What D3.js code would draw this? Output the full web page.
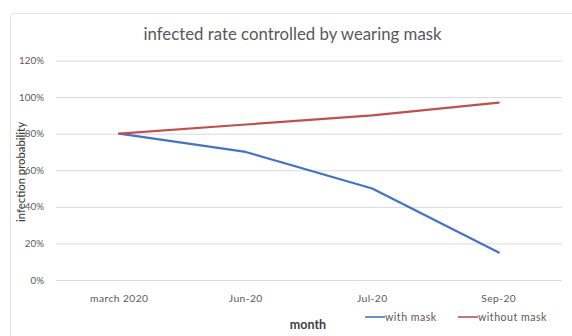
<!DOCTYPE html>
<html>
<head>
<meta charset="utf-8">
<script src="https://cdn.jsdelivr.net/npm/d3@7"></script>
<style>
  html, body { margin: 0; padding: 0; background: #fff; }
  svg { display: block; font-family: Lato, "Open Sans", sans-serif; }
</style>
</head>
<body>
<svg id="chart" width="572" height="336"></svg>
<script>
// Monthly infection probability, with and without masks
const months = ["march 2020", "Jun-20", "Jul-20", "Sep-20"];
const withMask = [0.80, 0.70, 0.50, 0.15];
const withoutMask = [0.80, 0.85, 0.90, 0.97];
const yTicks = [0, 0.2, 0.4, 0.6, 0.8, 1.0, 1.2];
const seriesNames = ["with mask", "without mask"];
const seriesColors = ["#4472C4", "#C0504D"];

const svg = d3.select("#chart");
const W = 572, H = 336;
const plot = { left: 56, right: 562, top: 60.5, bottom: 280 };

// chart frame
svg.append("rect")
  .attr("x", 10.5).attr("y", 13.5)
  .attr("width", W + 10).attr("height", H + 10)
  .attr("rx", 3)
  .attr("fill", "#fff").attr("stroke", "#e3e3e3");

const x = d3.scaleBand().domain(months).range([plot.left, plot.right]);
const y = d3.scaleLinear().domain([0, 1.2]).range([plot.bottom, plot.top]);

// title
svg.append("text")
  .attr("x", 292.5).attr("y", 39.5)
  .attr("text-anchor", "middle")
  .attr("font-size", 16.8)
  .attr("fill", "#595959")
  .text("infected rate controlled by wearing mask");

// gridlines + y tick labels
const yAxis = d3.axisLeft(y)
  .tickValues(yTicks)
  .tickFormat(d3.format(".0%"))
  .tickSize(-(plot.right - plot.left))
  .tickPadding(12);
const gy = svg.append("g")
  .attr("transform", `translate(${plot.left},0)`)
  .call(yAxis);
gy.select(".domain").remove();
gy.selectAll(".tick line").attr("stroke", "#d9d9d9").attr("stroke-width", 1);
gy.selectAll(".tick text")
  .attr("fill", "#595959")
  .attr("font-size", 9.8)
  .attr("font-family", "Lato, 'Open Sans', sans-serif");

// x category labels
const xAxis = d3.axisBottom(x).tickSize(0).tickPadding(15);
const gx = svg.append("g")
  .attr("transform", `translate(0,${plot.bottom})`)
  .call(xAxis);
gx.select(".domain").remove();
gx.selectAll(".tick text")
  .attr("fill", "#595959")
  .attr("font-size", 10.3)
  .attr("letter-spacing", 0.4)
  .attr("font-family", "Lato, 'Open Sans', sans-serif");

// axis titles
svg.append("text")
  .attr("transform", "translate(25,172) rotate(-90)")
  .attr("text-anchor", "middle")
  .attr("font-size", 11.3)
  .attr("font-weight", 500)
  .attr("fill", "#404040")
  .text("infection probability");

svg.append("text")
  .attr("x", 308).attr("y", 329)
  .attr("text-anchor", "middle")
  .attr("font-size", 12.5)
  .attr("font-weight", 700)
  .attr("fill", "#404040")
  .text("month");

// series lines
const line = d3.line()
  .x((d, i) => x(months[i]) + x.bandwidth() / 2)
  .y(d => y(d));

[withMask, withoutMask].forEach((vals, i) => {
  svg.append("path")
    .datum(vals)
    .attr("d", line)
    .attr("fill", "none")
    .attr("stroke", seriesColors[i])
    .attr("stroke-width", 2.2)
    .attr("stroke-linejoin", "round")
    .attr("stroke-linecap", "round");
});

// legend
const legendX = [365, 458];
seriesNames.forEach((name, i) => {
  const g = svg.append("g").attr("transform", `translate(${legendX[i]},317)`);
  g.append("line")
    .attr("x1", 0).attr("x2", 20).attr("y1", 0).attr("y2", 0)
    .attr("stroke", seriesColors[i]).attr("stroke-width", 1.6);
  g.append("text")
    .attr("x", 20).attr("y", 3.8)
    .attr("font-size", 10.6)
    .attr("letter-spacing", 0.5)
    .attr("fill", "#595959")
    .text(name);
});
</script>
</body>
</html>
